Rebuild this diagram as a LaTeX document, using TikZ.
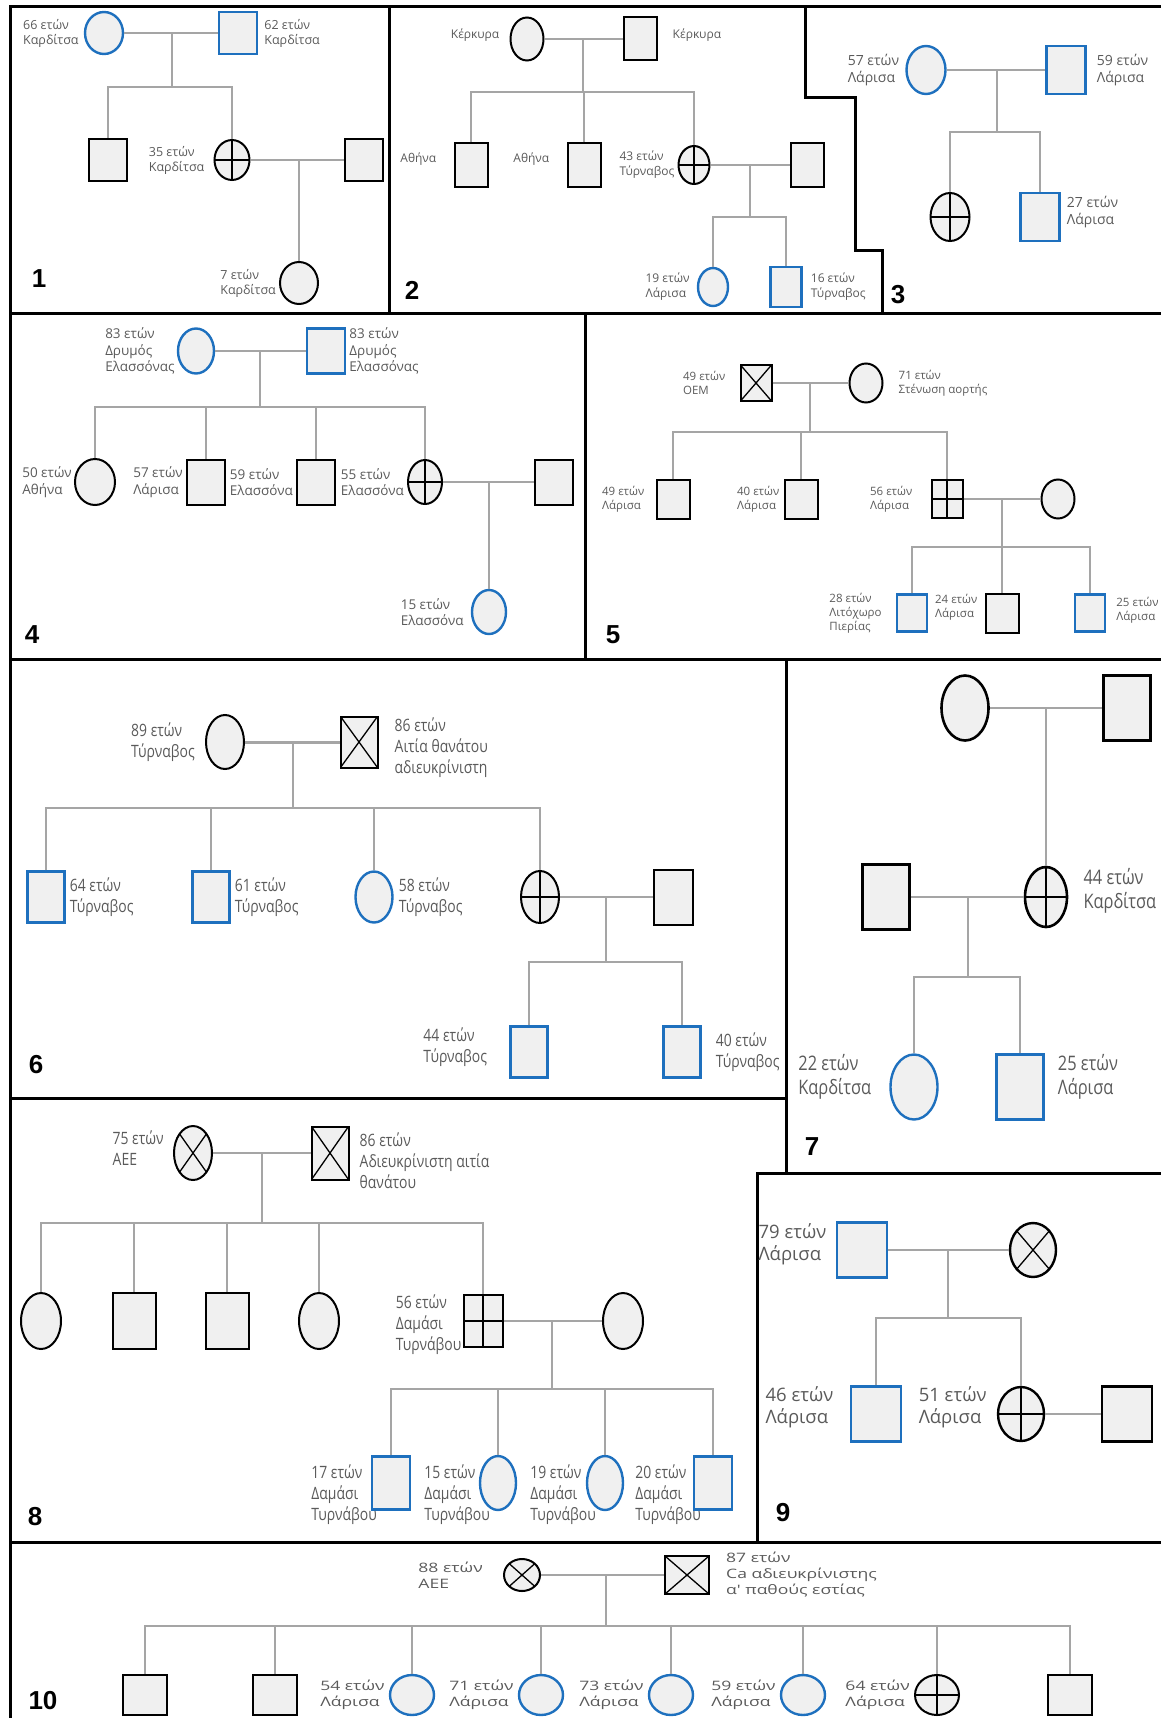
\documentclass[tikz,border=0pt]{standalone}
\usepackage{fontspec}
\usepackage{xcolor}
\usepackage{tikz}
\usetikzlibrary{positioning, shapes.geometric}

\newfontfamily\lblfont{Open Sans}
\newfontfamily\lblnarrow[FakeStretch=0.82]{Open Sans}
\newfontfamily\lblwide[FakeStretch=1.35]{Open Sans}
\newfontfamily\numfont{Liberation Sans}

\definecolor{affblue}{RGB}{30,112,190}
\definecolor{symfill}{RGB}{240,240,240}
\definecolor{linkgray}{RGB}{165,165,165}
\definecolor{txtgray}{RGB}{90,90,90}

\begin{document}
\begin{tikzpicture}[
    x=1pt, y=-1pt,
    node distance=4pt,
    symbol/.style={draw, fill=symfill, line width=2pt, inner sep=0pt, minimum width=38pt, minimum height=42pt},
    male/.style={symbol, rectangle},
    female/.style={symbol, ellipse},
    tested/.style={draw=affblue, line width=2.4pt},
    patient/.style={path picture={\draw[line width=1.5pt] (path picture bounding box.north) -- (path picture bounding box.south) (path picture bounding box.west) -- (path picture bounding box.east);}},
    deceased/.style={path picture={\draw[line width=1.3pt] (path picture bounding box.north west) -- (path picture bounding box.south east) (path picture bounding box.south west) -- (path picture bounding box.north east);}},
    lbl/.style={text=txtgray, align=left, inner sep=0pt},
    num/.style={font=\numfont\bfseries\fontsize{26}{26}\selectfont, inner sep=0pt},
    link/.style={draw=linkgray, line width=1.5pt},
    frame/.style={line width=3pt, line cap=rect}
]
\useasboundingbox (0,0) rectangle (1161,1718);

% panel frames
\draw[frame] (10,7) -- (1161,7);
\draw[frame] (10,7) -- (10,1718);
\draw[frame] (389,7) -- (389,313);
\draw[frame] (805,7) -- (805,98) -- (855,98) -- (855,250) -- (882,250) -- (882,313);
\draw[frame] (10,313) -- (1161,313);
\draw[frame] (585,313) -- (585,659);
\draw[frame] (10,659) -- (1161,659);
\draw[frame] (786,659) -- (786,1173);
\draw[frame] (10,1098) -- (786,1098);
\draw[frame] (757,1173) -- (1161,1173);
\draw[frame] (757,1173) -- (757,1542);
\draw[frame] (10,1542) -- (1161,1542);

% family 1
\begin{scope}[lbl/.append style={font=\lblfont\fontsize{12.5}{15}\selectfont}]
\node[female, tested] (f1) at (104,33) {};
\node[male, tested] (m1) at (238,33) {};
\node[male] (k1a) at (108,160) {};
\node[female, patient, minimum width=35pt, minimum height=40pt] (k1b) at (232,160) {};
\node[male] (s1) at (364,160) {};
\node[female] (g1) at (299,283) {};
\coordinate (p1) at (172,87);
\node[lbl, left=5pt of f1] (f1l) {66 ετών\\Καρδίτσα};
\node[lbl, right=6pt of m1] (m1l) {62 ετών\\Καρδίτσα};
\node[lbl, left=9pt of k1b] (k1bl) {35 ετών\\Καρδίτσα};
\node[lbl, left=3pt of g1] (g1l) {7 ετών\\Καρδίτσα};
\node[num] (n1) at (39,279) {1};
\draw[link] (f1) -- (m1);
\draw[link] (p1 |- f1) -- (p1);
\draw[link] (k1a.north) |- (p1) -| (k1b.north);
\draw[link] (k1b) -- (s1);
\draw[link] (g1.north |- s1) -- (g1.north);
\end{scope}

% family 2
\begin{scope}[lbl/.append style={font=\lblfont\fontsize{12}{15}\selectfont},
    symbol/.append style={minimum width=33pt, minimum height=43pt}]
\node[female] (f2) at (527,39) {};
\node[male] (m2) at (640,39) {};
\node[male] (k2a) at (471,165) {};
\node[male] (k2b) at (584,165) {};
\node[female, patient, minimum width=31pt, minimum height=38pt] (k2c) at (694,165) {};
\node[male] (s2) at (807,165) {};
\node[female, tested, minimum width=30pt, minimum height=38pt] (g2a) at (713,287) {};
\node[male, tested, minimum width=31pt, minimum height=40pt] (g2b) at (786,287) {};
\coordinate (p2) at (583,92);
\coordinate (p2b) at (750,217);
\node[lbl, left=10pt of f2, yshift=4pt] (f2l) {Κέρκυρα};
\node[lbl, right=15pt of m2, yshift=4pt] (m2l) {Κέρκυρα};
\node[lbl, left=17pt of k2a, yshift=6pt] (k2al) {Αθήνα};
\node[lbl, left=17pt of k2b, yshift=6pt] (k2bl) {Αθήνα};
\node[lbl, left=3pt of k2c] (k2cl) {43 ετών\\Τύρναβος};
\node[lbl, left=7pt of g2a] (g2al) {19 ετών\\Λάρισα};
\node[lbl, right=8pt of g2b] (g2bl) {16 ετών\\Τύρναβος};
\node[num] (n2) at (412,290) {2};
\draw[link] (f2) -- (m2);
\draw[link] (p2 |- f2) -- (p2);
\draw[link] (k2a.north) |- (p2) -| (k2c.north);
\draw[link] (k2b.north) -- (k2b.north |- p2);
\draw[link] (k2c) -- (s2);
\draw[link] (p2b |- s2) -- (p2b);
\draw[link] (g2a.north) |- (p2b) -| (g2b.north);
\end{scope}

% family 3
\begin{scope}[lbl/.append style={font=\lblfont\fontsize{14}{17}\selectfont},
    symbol/.append style={minimum width=39pt, minimum height=48pt}]
\node[female, tested] (f3) at (926,70) {};
\node[male, tested] (m3) at (1066,70) {};
\node[female, patient] (k3a) at (950,217) {};
\node[male, tested] (k3b) at (1040,217) {};
\coordinate (p3) at (997,132);
\node[lbl, left=6pt of f3] (f3l) {57 ετών\\Λάρισα};
\node[lbl, right=10pt of m3] (m3l) {59 ετών\\Λάρισα};
\node[lbl, right=6pt of k3b, yshift=5pt] (k3bl) {27 ετών\\Λάρισα};
\node[num] (n3) at (898,295) {3};
\draw[link] (f3) -- (m3);
\draw[link] (p3 |- f3) -- (p3);
\draw[link] (k3a.north) |- (p3) -| (k3b.north);
\end{scope}

% family 4
\begin{scope}[lbl/.append style={font=\lblfont\fontsize{13.5}{16.5}\selectfont},
    symbol/.append style={minimum width=38pt, minimum height=45pt}]
\node[female, tested, minimum width=36pt] (f4) at (196,351) {};
\node[male, tested] (m4) at (326,351) {};
\node[female, minimum width=40pt, minimum height=46pt] (k4a) at (95,482) {};
\node[male] (k4b) at (206,482) {};
\node[male] (k4c) at (316,482) {};
\node[female, patient, minimum width=34pt, minimum height=44pt] (k4d) at (425,482) {};
\node[male] (s4) at (554,482) {};
\node[female, tested, minimum width=34pt, minimum height=44pt] (g4) at (489,612) {};
\coordinate (p4) at (260,407);
\node[lbl, left=2pt of f4] (f4l) {83 ετών\\Δρυμός\\Ελασσόνας};
\node[lbl, right=3pt of m4] (m4l) {83 ετών\\Δρυμός\\Ελασσόνας};
\node[lbl, left=2pt of k4a] (k4al) {50 ετών\\Αθήνα};
\node[lbl, left=3pt of k4b] (k4bl) {57 ετών\\Λάρισα};
\node[lbl, left=3pt of k4c] (k4cl) {59 ετών\\Ελασσόνα};
\node[lbl, left=3pt of k4d] (k4dl) {55 ετών\\Ελασσόνα};
\node[lbl, left=7pt of g4] (g4l) {15 ετών\\Ελασσόνα};
\node[num] (n4) at (32,635) {4};
\draw[link] (f4) -- (m4);
\draw[link] (p4 |- f4) -- (p4);
\draw[link] (k4a.north) |- (p4) -| (k4d.north);
\draw[link] (k4b.north) -- (k4b.north |- p4);
\draw[link] (k4c.north) -- (k4c.north |- p4);
\draw[link] (k4d) -- (s4);
\draw[link] (g4.north |- s4) -- (g4.north);
\end{scope}

% family 5
\begin{scope}[lbl/.append style={font=\lblfont\fontsize{11.5}{14}\selectfont},
    symbol/.append style={minimum width=33pt, minimum height=39pt}]
\node[male, deceased, minimum width=31pt, minimum height=36pt] (m5) at (756,383) {};
\node[female] (f5) at (866,383) {};
\node[male] (k5a) at (673,499) {};
\node[male] (k5b) at (801,499) {};
\node[male, patient, minimum width=31pt, minimum height=38pt] (k5c) at (947,499) {};
\node[female] (s5) at (1058,499) {};
\node[male, tested, minimum width=30pt, minimum height=37pt] (g5a) at (912,613) {};
\node[male] (g5b) at (1002,613) {};
\node[male, tested, minimum width=30pt, minimum height=37pt] (g5c) at (1090,613) {};
\coordinate (p5) at (810,432);
\coordinate (p5b) at (1002,547);
\node[lbl, left=14pt of m5] (m5l) {49 ετών\\ΟΕΜ};
\node[lbl, right=15pt of f5] (f5l) {71 ετών\\Στένωση αορτής};
\node[lbl, left=11pt of k5a] (k5al) {49 ετών\\Λάρισα};
\node[lbl, left=4pt of k5b] (k5bl) {40 ετών\\Λάρισα};
\node[lbl, left=18pt of k5c] (k5cl) {56 ετών\\Λάρισα};
\node[lbl, left=14pt of g5a] (g5al) {28 ετών\\Λιτόχωρο\\Πιερίας};
\node[lbl, left=7pt of g5b, yshift=6pt] (g5bl) {24 ετών\\Λάρισα};
\node[lbl, right=10pt of g5c, yshift=3pt] (g5cl) {25 ετών\\Λάρισα};
\node[num] (n5) at (613,635) {5};
\draw[link] (m5) -- (f5);
\draw[link] (p5 |- m5) -- (p5);
\draw[link] (k5a.north) |- (p5) -| (k5c.north);
\draw[link] (k5b.north) -- (k5b.north |- p5);
\draw[link] (k5c) -- (s5);
\draw[link] (p5b |- s5) -- (p5b);
\draw[link] (g5a.north) |- (p5b) -| (g5c.north);
\draw[link] (g5b.north) -- (g5b.north |- p5b);
\end{scope}

% family 6
\begin{scope}[lbl/.append style={font=\lblnarrow\fontsize{17}{21}\selectfont},
    symbol/.append style={minimum width=37pt, minimum height=51pt}]
\node[female, minimum width=38pt, minimum height=54pt] (f6) at (225,742) {};
\node[male, deceased] (m6) at (359,742) {};
\node[male, tested] (k6a) at (46,897) {};
\node[male, tested] (k6b) at (211,897) {};
\node[female, tested] (k6c) at (374,897) {};
\node[female, patient, minimum width=38pt, minimum height=52pt] (k6d) at (540,897) {};
\node[male, minimum width=39pt, minimum height=55pt] (s6) at (673,897) {};
\node[male, tested] (g6a) at (529,1052) {};
\node[male, tested] (g6b) at (682,1052) {};
\coordinate (p6) at (293,808);
\coordinate (p6b) at (606,962);
\node[lbl, left=10pt of f6] (f6l) {89 ετών\\Τύρναβος};
\node[lbl, right=16pt of m6, yshift=-6pt] (m6l) {86 ετών\\Αιτία θανάτου\\αδιευκρίνιστη};
\node[lbl, right=4pt of k6a] (k6al) {64 ετών\\Τύρναβος};
\node[lbl, right=4pt of k6b] (k6bl) {61 ετών\\Τύρναβος};
\node[lbl, right=5pt of k6c] (k6cl) {58 ετών\\Τύρναβος};
\node[lbl, left=22pt of g6a, yshift=5pt] (g6al) {44 ετών\\Τύρναβος};
\node[lbl, right=14pt of g6b] (g6bl) {40 ετών\\Τύρναβος};
\node[num] (n6) at (36,1065) {6};
\draw[link, line width=3pt] (f6) -- (m6);
\draw[link] (p6 |- f6) -- (p6);
\draw[link] (k6a.north) |- (p6) -| (k6d.north);
\draw[link] (k6b.north) -- (k6b.north |- p6);
\draw[link] (k6c.north) -- (k6c.north |- p6);
\draw[link] (k6d) -- (s6);
\draw[link] (p6b |- s6) -- (p6b);
\draw[link] (g6a.north) |- (p6b) -| (g6b.north);
\end{scope}

% family 7
\begin{scope}[lbl/.append style={font=\lblnarrow\fontsize{20}{24}\selectfont},
    symbol/.append style={minimum width=47pt, minimum height=65pt, line width=2.6pt}]
\node[female] (f7) at (965,708) {};
\node[male] (m7) at (1127,708) {};
\node[female, patient, minimum width=42pt, minimum height=60pt] (k7) at (1046,897) {};
\node[male] (s7) at (886,897) {};
\node[female, tested] (g7a) at (914,1087) {};
\node[male, tested] (g7b) at (1020,1087) {};
\coordinate (p7) at (968,977);
\node[lbl, right=15pt of k7, yshift=6pt] (k7l) {44 ετών\\Καρδίτσα};
\node[lbl, left=18pt of g7a, yshift=10pt] (g7al) {22 ετών\\Καρδίτσα};
\node[lbl, right=13pt of g7b, yshift=10pt] (g7bl) {25 ετών\\Λάρισα};
\node[num] (n7) at (812,1147) {7};
\draw[link] (f7) -- (m7);
\draw[link] (k7.north |- f7) -- (k7.north);
\draw[link] (s7) -- (k7);
\draw[link] (p7 |- s7) -- (p7);
\draw[link] (g7a.north) |- (p7) -| (g7b.north);
\end{scope}

% family 8
\begin{scope}[lbl/.append style={font=\lblnarrow\fontsize{17}{21}\selectfont},
    symbol/.append style={minimum width=40pt, minimum height=56pt}]
\node[female, deceased, minimum width=38pt, minimum height=54pt] (f8) at (193,1153) {};
\node[male, deceased, minimum width=37pt, minimum height=53pt] (m8) at (330,1153) {};
\node[female] (k8a) at (41,1321) {};
\node[male, minimum width=43pt] (k8b) at (134,1321) {};
\node[male, minimum width=43pt] (k8c) at (227,1321) {};
\node[female] (k8d) at (319,1321) {};
\node[male, patient, minimum width=39pt, minimum height=52pt] (k8e) at (483,1321) {};
\node[female] (s8) at (623,1321) {};
\node[male, tested, minimum width=38pt, minimum height=53pt] (g8a) at (391,1483) {};
\node[female, tested, minimum width=36pt, minimum height=54pt] (g8b) at (498,1483) {};
\node[female, tested, minimum width=36pt, minimum height=54pt] (g8c) at (605,1483) {};
\node[male, tested, minimum width=38pt, minimum height=53pt] (g8d) at (713,1483) {};
\coordinate (p8) at (262,1223);
\coordinate (p8b) at (552,1389);
\node[lbl, left=9pt of f8, yshift=5pt] (f8l) {75 ετών\\ΑΕΕ};
\node[lbl, right=10pt of m8, yshift=-8pt] (m8l) {86 ετών\\Αδιευκρίνιστη αιτία\\θανάτου};
\node[lbl, left=1pt of k8e, yshift=-4pt] (k8el) {56 ετών\\Δαμάσι\\Τυρνάβου};
\node[lbl, anchor=north east] (g8al) at (377,1465) {17 ετών\\Δαμάσι\\Τυρνάβου};
\node[lbl, anchor=north east] (g8bl) at (490,1465) {15 ετών\\Δαμάσι\\Τυρνάβου};
\node[lbl, anchor=north east] (g8cl) at (596,1465) {19 ετών\\Δαμάσι\\Τυρνάβου};
\node[lbl, anchor=north east] (g8dl) at (701,1465) {20 ετών\\Δαμάσι\\Τυρνάβου};
\node[num] (n8) at (35,1517) {8};
\draw[link] (f8) -- (m8);
\draw[link] (p8 |- f8) -- (p8);
\draw[link] (k8a.north) |- (p8) -| (k8e.north);
\draw[link] (k8b.north) -- (k8b.north |- p8);
\draw[link] (k8c.north) -- (k8c.north |- p8);
\draw[link] (k8d.north) -- (k8d.north |- p8);
\draw[link] (k8e) -- (s8);
\draw[link] (p8b |- s8) -- (p8b);
\draw[link] (g8a.north) |- (p8b) -| (g8d.north);
\draw[link] (g8b.north) -- (g8b.north |- p8b);
\draw[link] (g8c.north) -- (g8c.north |- p8b);
\end{scope}

% family 9
\begin{scope}[lbl/.append style={font=\lblfont\fontsize{18.5}{22}\selectfont},
    symbol/.append style={minimum width=50pt, minimum height=55pt, line width=2.4pt}]
\node[male, tested, line width=2.8pt] (m9) at (862,1250) {};
\node[female, deceased, minimum width=46pt, minimum height=54pt] (f9) at (1033,1250) {};
\node[male, tested, line width=2.8pt] (k9a) at (876,1414) {};
\node[female, patient, minimum width=46pt, minimum height=54pt] (k9b) at (1021,1414) {};
\node[male] (s9) at (1127,1414) {};
\coordinate (p9) at (948,1318);
\node[lbl, left=9pt of m9, yshift=6pt] (m9l) {79 ετών\\Λάρισα};
\node[lbl, left=16pt of k9a, yshift=7pt] (k9al) {46 ετών\\Λάρισα};
\node[lbl, left=10pt of k9b, yshift=7pt] (k9bl) {51 ετών\\Λάρισα};
\node[num] (n9) at (783,1513) {9};
\draw[link] (m9) -- (f9);
\draw[link] (p9 |- m9) -- (p9);
\draw[link] (k9a.north) |- (p9) -| (k9b.north);
\draw[link] (k9b) -- (s9);
\end{scope}

% family 10
\begin{scope}[lbl/.append style={font=\lblwide\fontsize{13}{16}\selectfont},
    symbol/.append style={minimum width=44pt, minimum height=40pt}]
\node[female, deceased, minimum width=36pt, minimum height=32pt] (f10) at (522,1575) {};
\node[male, deceased, minimum width=44pt, minimum height=38pt] (m10) at (687,1575) {};
\node[male] (k10a) at (145,1695) {};
\node[male] (k10b) at (275,1695) {};
\node[female, tested] (k10c) at (412,1695) {};
\node[female, tested] (k10d) at (541,1695) {};
\node[female, tested] (k10e) at (671,1695) {};
\node[female, tested] (k10f) at (803,1695) {};
\node[female, patient] (k10g) at (937,1695) {};
\node[male] (k10h) at (1070,1695) {};
\coordinate (p10) at (606,1626);
\node[lbl, left=20pt of f10] (f10l) {88 ετών\\ΑΕΕ};
\node[lbl, right=16pt of m10] (m10l) {87 ετών\\Ca αδιευκρίνιστης\\α' παθούς εστίας};
\node[lbl, left=4pt of k10c] (k10cl) {54 ετών\\Λάρισα};
\node[lbl, left=4pt of k10d] (k10dl) {71 ετών\\Λάρισα};
\node[lbl, left=4pt of k10e] (k10el) {73 ετών\\Λάρισα};
\node[lbl, left=4pt of k10f] (k10fl) {59 ετών\\Λάρισα};
\node[lbl, left=4pt of k10g] (k10gl) {64 ετών\\Λάρισα};
\node[num] (n10) at (43,1701) {10};
\draw[link] (f10) -- (m10);
\draw[link] (p10 |- f10) -- (p10);
\draw[link] (k10a.north) |- (p10) -| (k10h.north);
\draw[link] (k10b.north) -- (k10b.north |- p10);
\draw[link] (k10c.north) -- (k10c.north |- p10);
\draw[link] (k10d.north) -- (k10d.north |- p10);
\draw[link] (k10e.north) -- (k10e.north |- p10);
\draw[link] (k10f.north) -- (k10f.north |- p10);
\draw[link] (k10g.north) -- (k10g.north |- p10);
\end{scope}

\end{tikzpicture}
\end{document}
